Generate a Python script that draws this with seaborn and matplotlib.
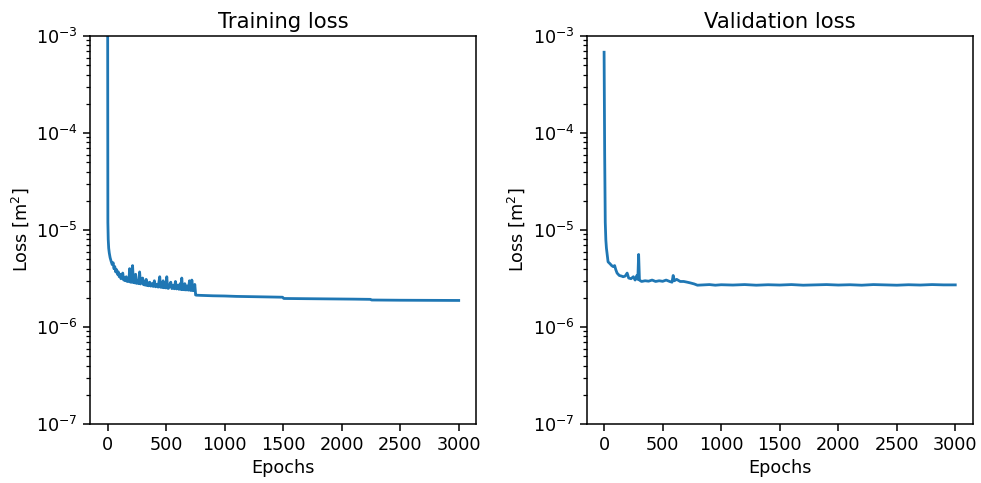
import numpy as np
import matplotlib
matplotlib.use("Agg")
import matplotlib.pyplot as plt
import seaborn as sns

# Training loss (epoch, loss)
train_epochs = [0, 3, 6, 10, 15, 22, 30, 40, 48, 55, 62, 70, 78, 85, 92, 100,
                108, 115, 122, 130, 138, 145, 152, 160, 168, 175, 182, 189, 196, 200, 207, 214, 221,
                228, 234, 240, 248, 258, 266, 274, 282, 290,
                300, 308, 315, 322, 330, 338, 345, 352, 360, 370, 380, 390, 400, 410, 420, 432, 446, 453,
                460, 468, 475, 482, 490, 498, 506, 513,
                520, 530, 540, 550, 560, 570, 580, 590, 600, 610, 620, 627, 634, 641, 648, 655, 660, 670,
                680, 690, 700, 705, 710, 715, 720, 728, 735, 740, 745, 750, 752, 760, 800, 900, 1000, 1100,
                1200, 1300, 1400, 1495, 1505, 1700, 1900, 2100, 2245, 2255, 2500, 2750, 2999]
train_loss = [3.0e-2, 1.2e-5, 8.0e-6, 6.5e-6, 5.8e-6, 5.2e-6, 4.8e-6, 4.4e-6, 4.6e-6, 4.0e-6, 4.2e-6, 3.7e-6, 3.9e-6, 3.5e-6, 3.7e-6, 3.3e-6,
              3.5e-6, 3.15e-6, 3.4e-6, 3.6e-6, 3.05e-6, 3.2e-6, 3.0e-6, 3.3e-6, 2.95e-6, 3.1e-6, 2.95e-6, 4.0e-6, 2.9e-6, 3.1e-6, 2.9e-6, 4.3e-6, 2.88e-6,
              3.0e-6, 2.85e-6, 3.5e-6, 2.82e-6, 3.0e-6, 2.8e-6, 3.7e-6, 2.78e-6, 2.95e-6,
              3.2e-6, 2.73e-6, 2.9e-6, 2.7e-6, 3.1e-6, 2.68e-6, 2.85e-6, 2.66e-6, 2.9e-6, 2.64e-6, 2.8e-6, 2.62e-6, 3.0e-6, 2.6e-6, 2.75e-6, 2.58e-6, 3.3e-6, 2.57e-6,
              2.75e-6, 2.56e-6, 3.0e-6, 2.54e-6, 2.7e-6, 2.53e-6, 3.3e-6, 2.52e-6,
              2.5e-6, 2.7e-6, 2.9e-6, 2.49e-6, 2.7e-6, 2.48e-6, 2.95e-6, 2.47e-6, 2.7e-6, 2.45e-6, 2.8e-6, 2.44e-6, 3.2e-6, 2.43e-6, 2.7e-6, 2.42e-6, 2.8e-6, 2.41e-6,
              2.65e-6, 2.4e-6, 3.0e-6, 2.4e-6, 2.7e-6, 2.39e-6, 3.05e-6, 2.38e-6, 2.6e-6, 2.37e-6, 2.75e-6, 2.36e-6, 2.14e-6, 2.13e-6, 2.12e-6, 2.1e-6, 2.09e-6, 2.07e-6,
              2.06e-6, 2.05e-6, 2.04e-6, 2.03e-6, 1.97e-6, 1.96e-6, 1.95e-6, 1.94e-6, 1.93e-6, 1.9e-6, 1.89e-6, 1.885e-6, 1.88e-6]

# Validation loss (epoch, loss)
val_epochs = [0, 5, 10, 15, 20, 34, 50, 65, 77, 90, 100, 111, 130, 150, 163, 180,
              197, 210, 230, 250, 265, 280, 288, 295, 302, 320, 350, 380, 410, 440,
              470, 500, 530, 560, 580, 590, 600, 620, 650, 680, 710, 737, 770, 797,
              850, 900, 950, 1000, 1100, 1200, 1300, 1400, 1500, 1600, 1700, 1800,
              1900, 2000, 2100, 2200, 2300, 2400, 2500, 2600, 2700, 2800, 2900, 2999]
val_loss = [6.8e-4, 6.0e-5, 1.2e-5, 7.9e-6, 6.5e-6, 4.7e-6, 4.5e-6, 4.3e-6, 4.2e-6, 4.3e-6, 3.9e-6, 3.6e-6, 3.4e-6, 3.35e-6, 3.3e-6, 3.35e-6,
            3.6e-6, 3.2e-6, 3.15e-6, 3.3e-6, 3.05e-6, 3.4e-6, 3.1e-6, 5.6e-6, 3.05e-6, 2.95e-6, 3.0e-6, 2.97e-6, 3.05e-6, 2.95e-6,
            3.0e-6, 2.96e-6, 3.05e-6, 2.95e-6, 2.9e-6, 3.4e-6, 3.0e-6, 3.1e-6, 2.95e-6, 2.95e-6, 2.9e-6, 2.85e-6, 2.78e-6, 2.7e-6,
            2.72e-6, 2.74e-6, 2.7e-6, 2.73e-6, 2.71e-6, 2.74e-6, 2.7e-6, 2.73e-6, 2.71e-6, 2.74e-6, 2.7e-6, 2.72e-6,
            2.74e-6, 2.71e-6, 2.73e-6, 2.7e-6, 2.74e-6, 2.72e-6, 2.7e-6, 2.73e-6, 2.71e-6, 2.74e-6, 2.72e-6, 2.72e-6]

panels = [("Training loss", train_epochs, train_loss),
          ("Validation loss", val_epochs, val_loss)]

plt.rcParams['font.family'] = ['DejaVu Sans']
plt.rcParams['axes.linewidth'] = 1.1

fig, axes = plt.subplots(1, 2, figsize=(9.81, 4.83), dpi=100)
fig.subplots_adjust(left=0.0917, right=0.9918, top=0.9255, bottom=0.122, wspace=0.285)

for ax, (title, ep, loss) in zip(axes, panels):
    sns.lineplot(x=ep, y=loss, ax=ax, color='#1f77b4', linewidth=2.0)
    ax.set_yscale('log')
    ax.set_ylim(1e-7, 1e-3)
    ax.set_xlim(-150, 3150)
    ax.set_title(title, fontsize=15.2)
    ax.set_xlabel('Epochs', fontsize=12.7)
    ax.set_ylabel('Loss [m$^2$]', fontsize=12.7)
    ax.tick_params(labelsize=12.7, width=1.1, length=5)
    ax.tick_params(which='minor', width=0.9, length=3)

plt.savefig('out.png', dpi=100)
plt.close()
